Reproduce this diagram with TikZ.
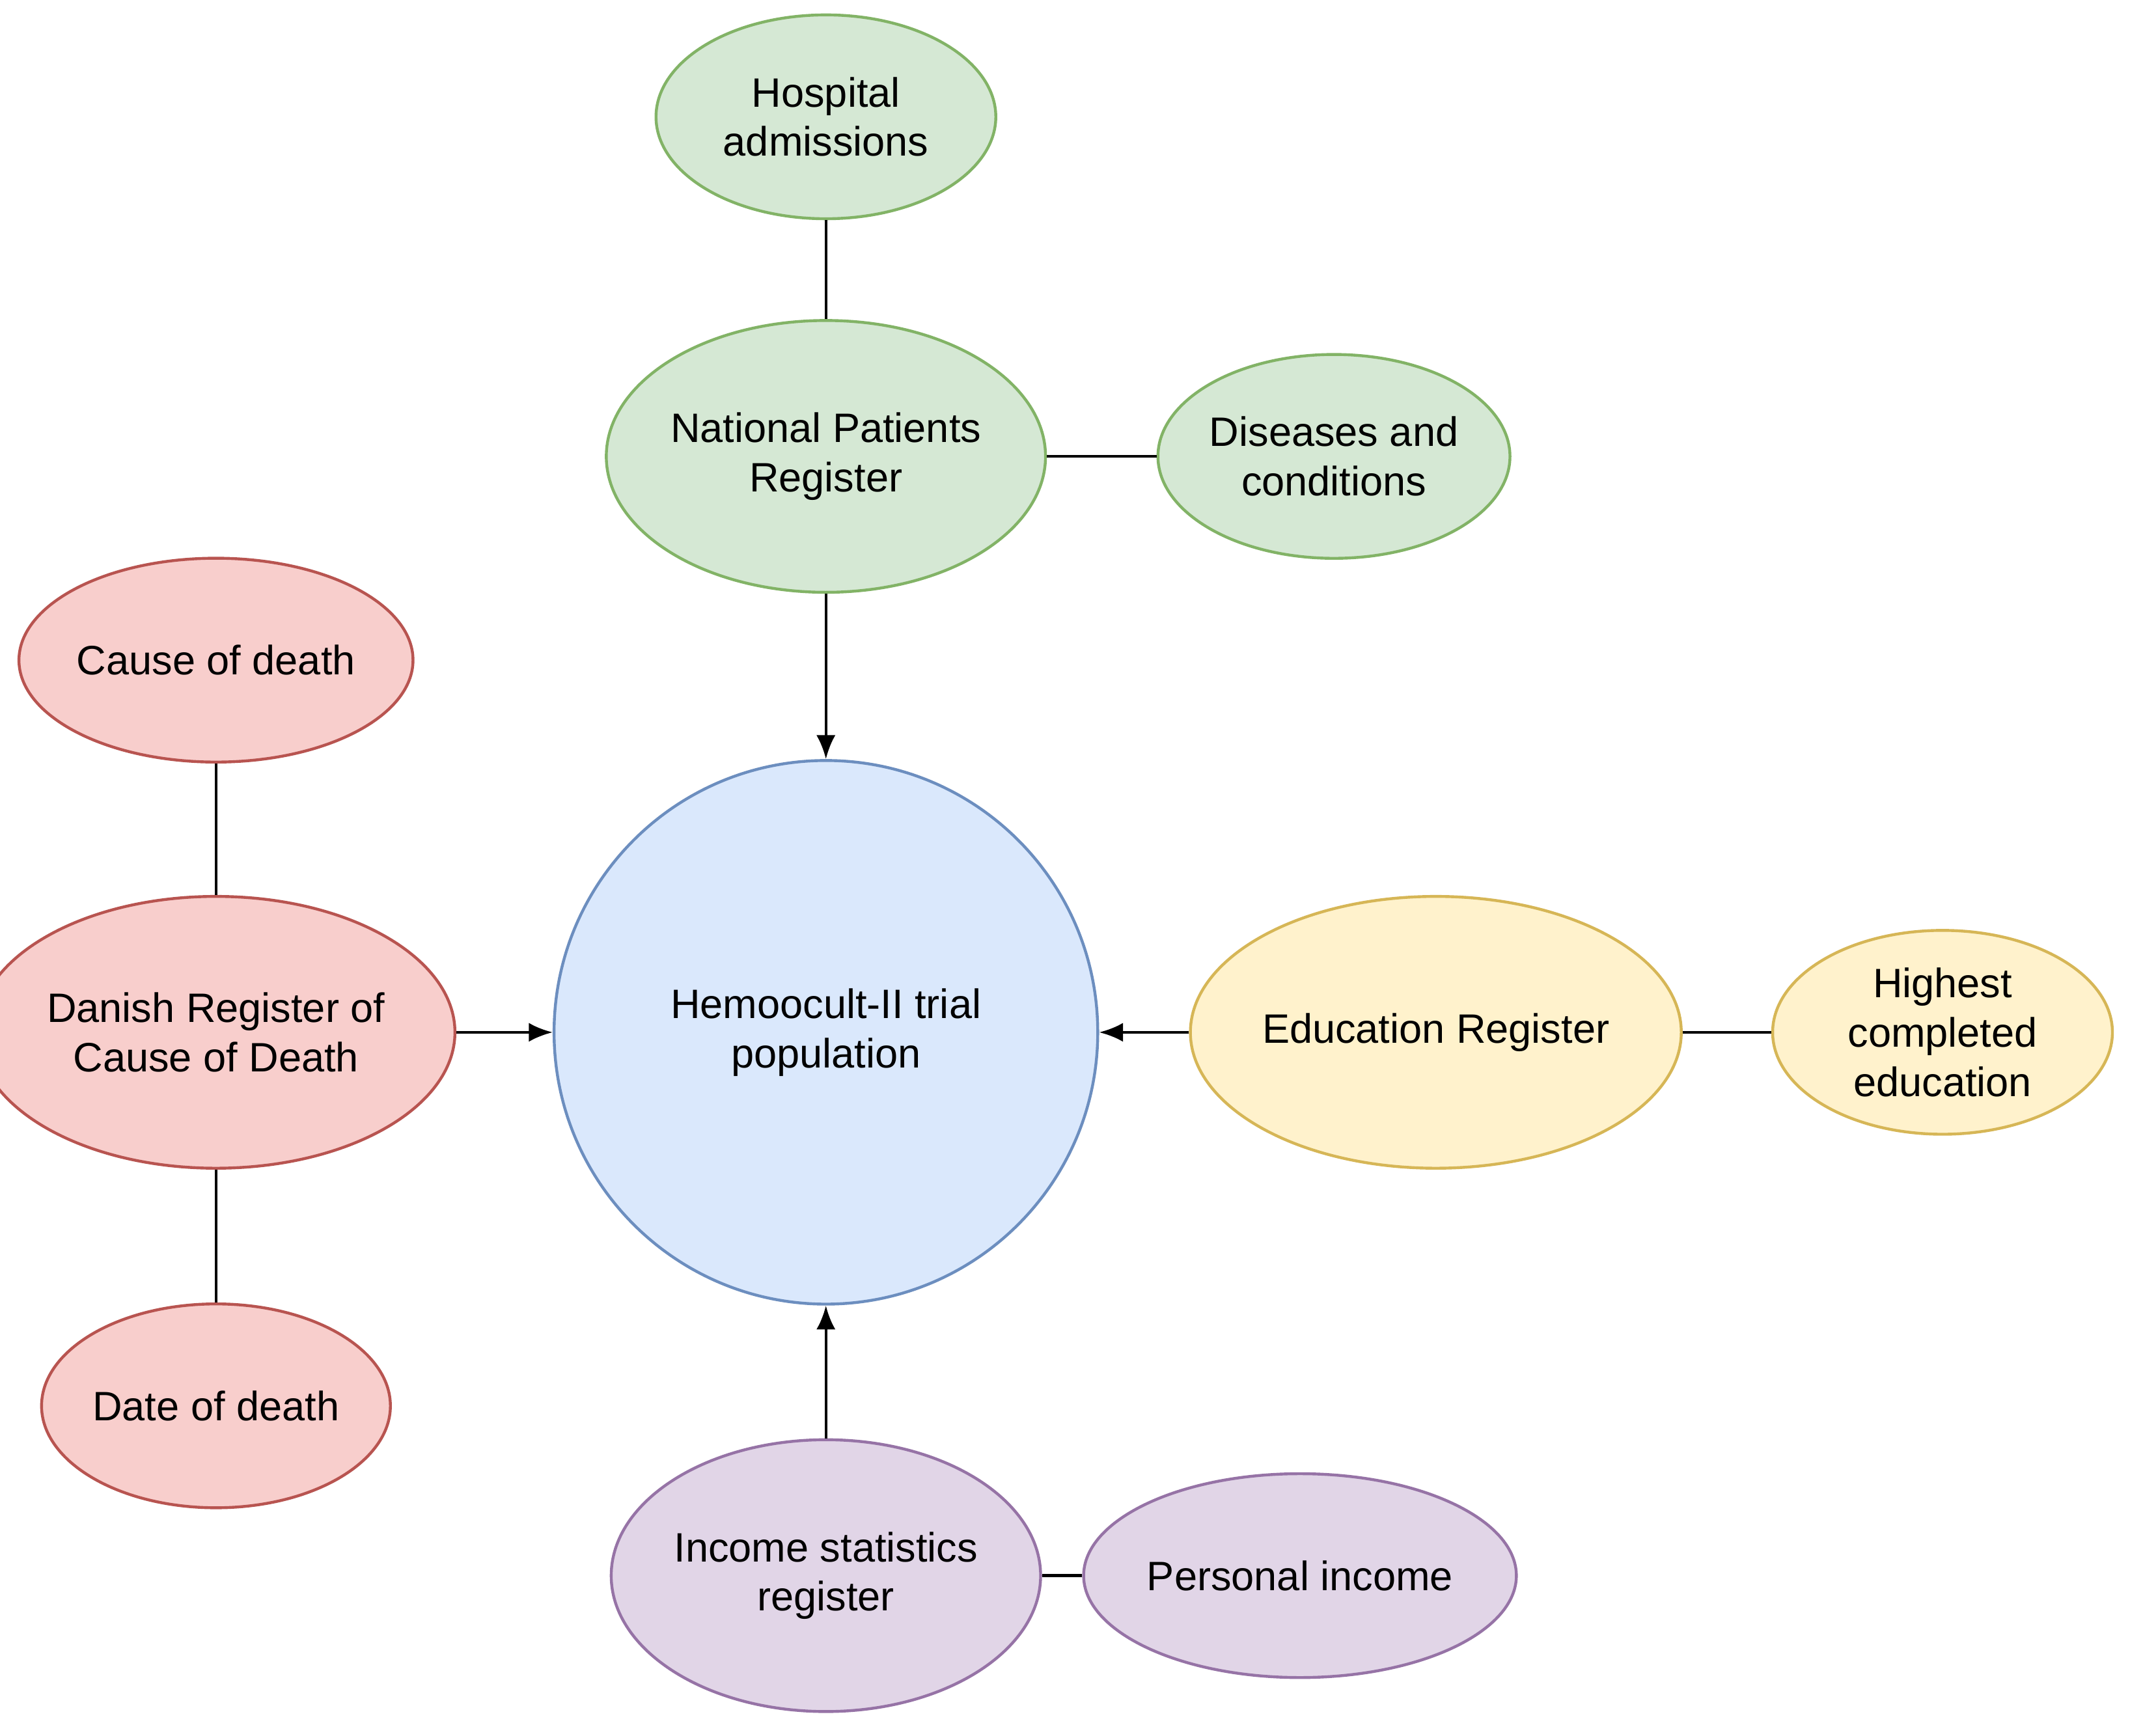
\documentclass[tikz,border=0pt]{standalone}
\usepackage{fontspec}
\setmainfont{Liberation Sans}
\usetikzlibrary{arrows.meta,shapes.geometric}
\definecolor{gF}{HTML}{D5E8D4}\definecolor{gS}{HTML}{82B366}
\definecolor{rF}{HTML}{F8CECC}\definecolor{rS}{HTML}{B85450}
\definecolor{bF}{HTML}{DAE8FC}\definecolor{bS}{HTML}{6C8EBF}
\definecolor{yF}{HTML}{FFF2CC}\definecolor{yS}{HTML}{D6B656}
\definecolor{pF}{HTML}{E1D5E7}\definecolor{pS}{HTML}{9673A6}
\begin{document}
\begin{tikzpicture}[x=0.01cm,y=-0.01cm,
  el/.style={ellipse,draw,line width=0.6pt,inner sep=0pt,align=center,font=\fontsize{8.6}{10.3}\selectfont},
  sm/.style={el,minimum width=2.5cm,minimum height=1.5cm},
  bg/.style={el,minimum width=3cm,minimum height=2cm},
  cgreen/.style={fill=gF,draw=gS},cred/.style={fill=rF,draw=rS},cyel/.style={fill=yF,draw=yS},cpur/.style={fill=pF,draw=pS},
  ln/.style={line width=0.6pt},
  ar/.style={ln,-{Latex[length=5pt,width=4pt]}}]
\useasboundingbox (0,0) rectangle (1568,1278);
\node[sm,cgreen] (ha) at (608,86) {Hospital\\admissions};
\node[bg,cgreen] (npr) at (608,336) {National Patients\\Register};
\node[sm,cgreen] (dc) at (982,336) {Diseases and\\conditions};
\node[sm,cred] (cod) at (159,486) {Cause of death};
\node[bg,cred] (dr) at (159,760) {Danish Register of\\Cause of Death};
\node[sm,cred] (dod) at (159,1035) {Date of death};
\node[el,circle,fill=bF,draw=bS,minimum size=4cm] (hem) at (608,760) {Hemoocult-II trial\\population};
\node[bg,cyel] (er) at (1057,760) {Education Register};
\node[sm,cyel] (hce) at (1430,760) {Highest\\completed\\education};
\node[bg,cpur] (isr) at (608,1160) {Income statistics\\register};
\node[sm,cpur] (pi) at (957,1160) {Personal income};
\draw[ln] (ha) -- (npr);
\draw[ln] (npr) -- (dc);
\draw[ar] (npr) -- (hem);
\draw[ln] (cod) -- (dr);
\draw[ln] (dr) -- (dod);
\draw[ar] (dr) -- (hem);
\draw[ar] (er) -- (hem);
\draw[ln] (er) -- (hce);
\draw[ar] (isr) -- (hem);
\draw[ln] (isr) -- (pi);
\end{tikzpicture}
\end{document}
